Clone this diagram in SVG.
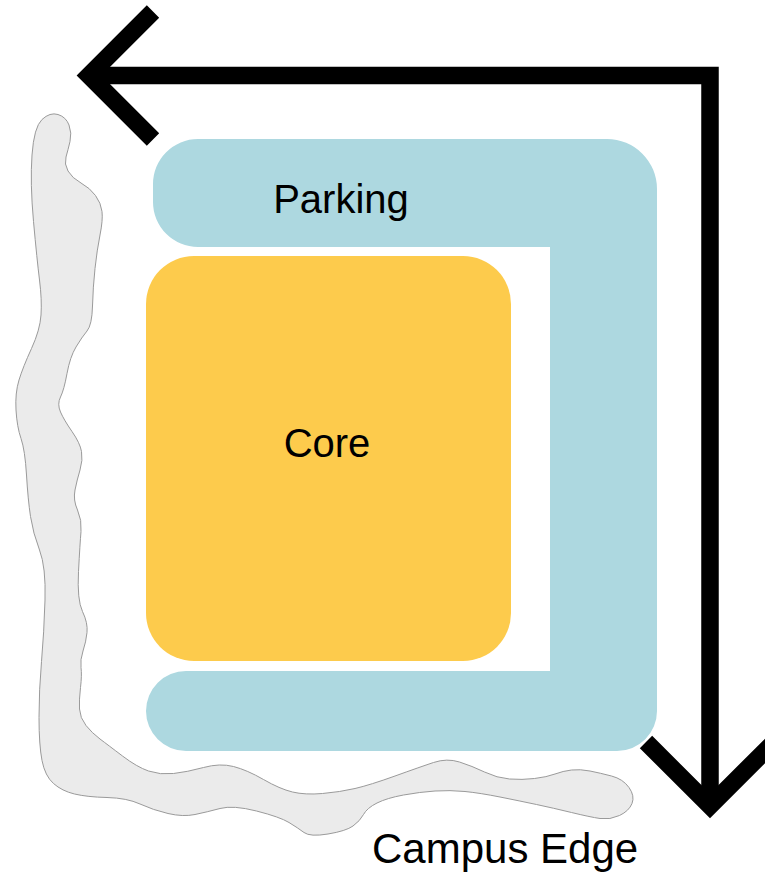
<svg xmlns="http://www.w3.org/2000/svg" width="765" height="876" viewBox="0 0 765 876">
<style>
.lbl{font-family:"Liberation Sans",Arial,sans-serif;fill:#000;}
.arrow{fill:none;stroke:#000;stroke-width:17.5;stroke-linejoin:miter;stroke-linecap:butt;}
</style>
<rect width="765" height="876" fill="#fff"/>
<g id="campus-edge">
<path fill="#ebebeb" stroke="#9a9a9a" stroke-width="1" d="M42,119.5 Q50,112 58,114.5 Q66,117 69,125 Q72,133 70,141.5 Q68,150 66,157 Q64,164 68,171 Q72,178 81,183 Q90,188 95.5,195.5 Q101,203 102,211.5 Q103,220 100,235 Q97,250 95,268.5 Q93,287 92.5,306 Q92,325 87,331 Q82,337 76,347 Q70,357 67,373.5 Q64,390 60.5,397 Q57,404 60.5,412 Q64,420 72,431.5 Q80,443 81.5,451.5 Q83,460 80,470 Q77,480 75,490 Q73,500 77.5,510 Q82,520 81,531.5 Q80,543 78.5,571.5 Q77,600 82.5,611.5 Q88,623 87,632.5 Q86,642 83,651 Q80,660 81,667.5 Q82,675 80.5,687.5 Q79,700 79.5,709 Q80,718 86,725.5 Q92,733 100,739 Q108,745 122.5,756 Q137,767 148.5,771 Q160,775 173.5,773.5 Q187,772 203.5,767.5 Q220,763 233.5,766.5 Q247,770 263.5,779.5 Q280,789 292.5,792 Q305,795 322.5,793.5 Q340,792 355,788.5 Q370,785 395,776 Q420,767 433.5,762.5 Q447,758 459.5,762 Q472,766 484.5,772 Q497,778 509.5,779 Q522,780 534.5,778.5 Q547,777 555,774 Q563,771 571.5,770 Q580,769 590,771 Q600,773 611.5,776 Q623,779 629,787.5 Q635,796 632,803.5 Q629,811 619.5,815.5 Q610,820 600,818.5 Q590,817 571.5,812.5 Q553,808 536.5,804.5 Q520,801 500,797 Q480,793 465,791.5 Q450,790 435,791 Q420,792 403.5,795 Q387,798 377,803 Q367,808 363.5,814.5 Q360,821 353,826 Q346,831 328,834 Q310,837 304,832.5 Q298,828 289,822.5 Q280,817 256.5,811 Q233,805 220,808.5 Q207,812 195,814.5 Q183,817 168,813.5 Q153,810 140,804 Q127,798 107,797.5 Q87,797 74.5,794 Q62,791 53.5,783.5 Q45,776 42,760.5 Q39,745 39,717.5 Q39,690 41.5,661.5 Q44,633 45,600 Q46,567 39.5,550 Q33,533 30.5,516.5 Q28,500 26.5,475 Q25,450 21,438.5 Q17,427 16,410 Q15,393 19,380 Q23,367 31.5,348.5 Q40,330 41,315 Q42,300 39.5,280 Q37,260 33.5,221.5 Q30,183 32,155 Q34,127 42,119.5 Z"/>
<text class="lbl" x="372" y="863" font-size="42">Campus Edge</text>
</g>
<g id="parking">
<path fill="#add8e0" d="M198,139 H607 A50,50 0 0 1 657,189 V711 A40,40 0 0 1 617,751 H186 A40,40 0 0 1 146,711 A40,40 0 0 1 186,671 H550 V247 H198 A45,45 0 0 1 153,202 V184 A45,45 0 0 1 198,139 Z"/>
<text class="lbl" x="341" y="213" font-size="40" text-anchor="middle">Parking</text>
</g>
<g id="core">
<rect x="146" y="256" width="365" height="405" rx="48" ry="48" fill="#fdcb4c"/>
<text class="lbl" x="327" y="457" font-size="40" text-anchor="middle">Core</text>
</g>
<g id="connectors">
<path class="arrow" d="M89,75.5 H710 V806"/>
<path class="arrow" d="M153,11.5 L89,75.5 L153,139.5"/>
<path class="arrow" d="M646,742 L710,806 L774,742"/>
</g>
</svg>
